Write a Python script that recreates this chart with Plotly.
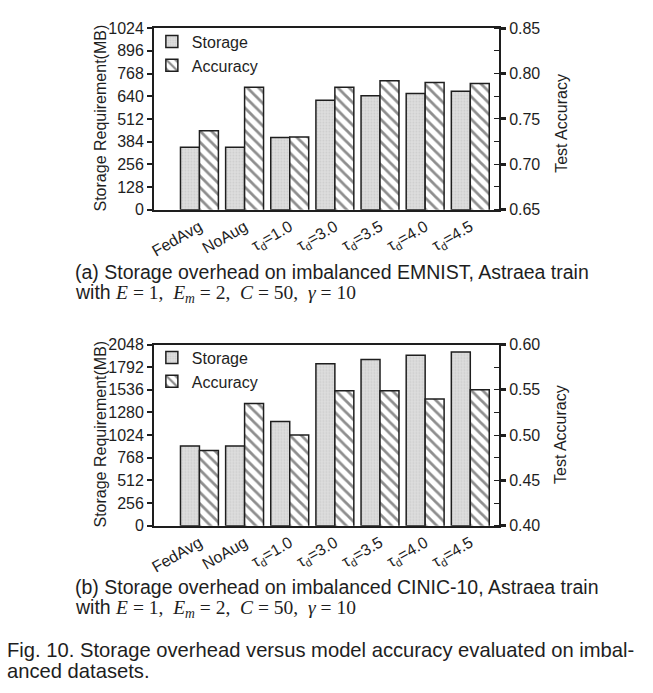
import plotly.graph_objects as go

categories = ["FedAvg", "NoAug", "τ<sub>d</sub>=1.0", "τ<sub>d</sub>=3.0",
              "τ<sub>d</sub>=3.5", "τ<sub>d</sub>=4.0", "τ<sub>d</sub>=4.5"]

# (a) EMNIST
storage_a = [352, 352, 407, 618, 642, 655, 668]
accuracy_a = [0.737, 0.785, 0.730, 0.785, 0.792, 0.790, 0.789]
storage_ticks_a = [0, 128, 256, 384, 512, 640, 768, 896, 1024]
acc_ticks_a = [0.65, 0.70, 0.75, 0.80, 0.85]

# (b) CINIC-10
storage_b = [901, 901, 1177, 1831, 1879, 1927, 1963]
accuracy_b = [0.483, 0.535, 0.500, 0.549, 0.549, 0.540, 0.550]
storage_ticks_b = [0, 256, 512, 768, 1024, 1280, 1536, 1792, 2048]
acc_ticks_b = [0.40, 0.45, 0.50, 0.55, 0.60]

W, H = 653, 693
FONT = "Liberation Sans, Arial, sans-serif"
xpos = list(range(len(categories)))

def px(x):
    return x / W

def py(y):
    return 1 - y / H

fig = go.Figure()

BW = 0.42
INK = "#1e1e1e"

def add_pair(xa, ya, ya2, storage, acc, legend):
    fig.add_trace(go.Bar(
        x=xpos, y=storage, xaxis=xa, yaxis=ya, name="Storage",
        width=BW, offset=-BW,
        marker=dict(color="#dcdcdc", line=dict(color=INK, width=1.5),
                    pattern=dict(shape=".", fgcolor="#b8b8b8", bgcolor="#dedede",
                                 size=3, solidity=0.3)),
        legend=legend))
    fig.add_trace(go.Bar(
        x=xpos, y=acc, xaxis=xa, yaxis=ya2, name="Accuracy",
        width=BW, offset=0,
        marker=dict(color="white", line=dict(color=INK, width=1.5),
                    pattern=dict(shape="\\", fgcolor=INK, bgcolor="white",
                                 size=8, solidity=0.35)),
        legend=legend))

add_pair("x", "y", "y2", storage_a, accuracy_a, "legend")
add_pair("x2", "y3", "y4", storage_b, accuracy_b, "legend2")

xdom = [px(150), px(498)]
dom_a = [py(206.7), py(20.7)]
dom_b = [py(530.7), py(345)]

xcommon = dict(range=[-1.01, 6.64], tickvals=xpos, ticktext=categories,
               tickangle=-30, ticks="", showline=True, linecolor=INK,
               linewidth=1.5, mirror=True, showgrid=False, zeroline=False,
               tickfont=dict(family=FONT, size=16, color=INK), domain=xdom)

def left_axis(rng, ticks, dom, anchor):
    return dict(range=rng, tickvals=ticks, ticks="outside", ticklen=5,
                tickwidth=1.5, tickcolor=INK, showline=True,
                linecolor=INK, linewidth=1.5, showgrid=False,
                zeroline=False, tickfont=dict(family=FONT, size=16, color=INK),
                domain=dom, anchor=anchor)

def right_axis(rng, ticks, overlay, anchor):
    return dict(range=rng, tickvals=ticks, tickformat=".2f", ticks="outside",
                ticklen=5, tickwidth=2.5, tickcolor=INK, side="right",
                overlaying=overlay, anchor=anchor, showline=True,
                linecolor=INK, linewidth=1.5, showgrid=False,
                zeroline=False, tickfont=dict(family=FONT, size=16, color=INK),
                minor=dict(dtick=0.025, ticks="inside", ticklen=5,
                           tickwidth=1.2, tickcolor=INK, showgrid=False))

legend_common = dict(xanchor="left", yanchor="top", bgcolor="rgba(0,0,0,0)",
                     font=dict(family=FONT, size=16, color=INK),
                     itemwidth=30, tracegroupgap=0)

fig.update_layout(
    width=W, height=H, margin=dict(l=0, r=0, t=0, b=0),
    paper_bgcolor="white", plot_bgcolor="white", barmode="overlay",
    font=dict(family=FONT, color=INK),
    xaxis=dict(xcommon, anchor="y"),
    xaxis2=dict(xcommon, anchor="y3"),
    yaxis=left_axis([0, 1024], storage_ticks_a, dom_a, "x"),
    yaxis2=right_axis([0.65, 0.85], acc_ticks_a, "y", "x"),
    yaxis3=left_axis([0, 2048], storage_ticks_b, dom_b, "x2"),
    yaxis4=right_axis([0.40, 0.60], acc_ticks_b, "y3", "x2"),
    legend=dict(legend_common, x=px(148), y=py(17)),
    legend2=dict(legend_common, x=px(148), y=py(341)),
    showlegend=True,
)

ann = []
def title(x, y, text, angle=-90):
    ann.append(dict(x=px(x), y=py(y), xref="paper", yref="paper", text=text,
                    showarrow=False, textangle=angle, xanchor="center", yanchor="middle",
                    font=dict(family=FONT, size=16, color=INK)))

title(96, 113, "Storage Requirement(MB)")
title(560, 118, "Test Accuracy")
title(96, 437, "Storage Requirement(MB)")
title(560, 437, "Test Accuracy")

def text_line(x, y, text, size=19.5):
    ann.append(dict(x=px(x), y=py(y), xref="paper", yref="paper", text=text,
                    showarrow=False, xanchor="left", yanchor="middle", align="left",
                    font=dict(family=FONT, size=size, color=INK)))

math = ("with <span style=\"font-family:'Liberation Serif'\"><i>E</i> = 1,  "
        "<i>E</i><sub><i>m</i></sub> = 2,  <i>C</i> = 50,  <i>γ</i> = 10</span>")

text_line(69, 271, "(a) Storage overhead on imbalanced EMNIST, Astraea train")
text_line(69, 293, math)
text_line(69, 594, "(b) Storage overhead on imbalanced CINIC-10, Astraea train")
text_line(69, 616, math)
text_line(0, 658, "Fig. 10. Storage overhead versus model accuracy evaluated on imbal-", 20.2)
text_line(0, 680, "anced datasets.", 20.2)

fig.update_layout(annotations=ann)

fig.write_html("out.html", config={"displayModeBar": False},
               post_script="document.body.style.margin='0';document.body.style.overflow='hidden';")
